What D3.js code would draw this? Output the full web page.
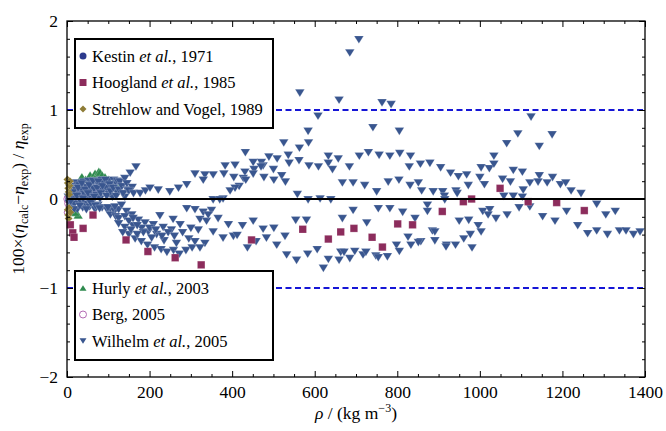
<!DOCTYPE html>
<html>
<head>
<meta charset="utf-8">
<script src="https://cdn.jsdelivr.net/npm/d3@7"></script>
<style>
  body { margin: 0; background: #fff; }
  svg { display: block; }
  svg text { font-family: "Liberation Serif", "Times New Roman", Times, "DejaVu Serif", serif; }
</style>
</head>
<body>
<svg id="chart" width="666" height="431"></svg>
<script>
//data: [density kg/m3, deviation %]
var kestin = [[5,0.0],[12,0.05],[20,0.02],[30,0.08],[40,0.05],[50,0.1],[60,0.08],[70,0.12],[80,0.1],[90,0.13],[100,0.12],[15,-0.03],[35,-0.02],[55,0.03],[75,0.05]];

var hoogland = [[8,-0.29],[14,-0.38],[17,-0.43],[39,-0.33],[63,-0.18],[143,-0.46],[196,-0.59],[262,-0.66],[325,-0.74],
	[447,-0.46],[571,-0.34],[633,-0.45],[663,-0.37],[695,-0.33],[739,-0.43],[764,-0.54],[801,-0.28],[837,-0.29],
	[909,-0.14],[960,-0.03],[980,0.0],[1049,0.12],[1117,-0.03],[1186,-0.04],[1253,-0.13]];

var strehlow = [[1,0.22],[2,0.18],[3,0.12],[4,0.08],[5,0.05],[6,0.15],[2,-0.12],[3,-0.18],[4,-0.22],[5,-0.1],[7,0.2],[8,-0.15]];

var hurly = [[27,-0.18],[20,-0.15],[36,0.25],[45,0.22],[56,0.27],[68,0.29],[70,0.25],[77,0.31],[80,0.3],[85,0.27],[92,0.25],[100,0.22],[112,0.18],[115,0.19]];

var berg = [[2,0.0],[4,-0.05],[6,0.03],[10,-0.08],[3,-0.15]];

var wilhelm = [
	//low density blob
	[3,0.02],[5,-0.05],[8,0.08],[10,-0.1],[12,0.14],[15,0.0],[18,-0.06],[20,0.1],[22,0.18],[25,-0.12],[28,0.04],[30,0.15],
	[33,-0.03],[35,0.1],[38,-0.1],[40,0.19],[42,0.05],[45,-0.06],[48,0.13],[50,0.0],[52,0.2],[55,-0.09],[57,0.08],[60,0.16],
	[62,-0.03],[65,0.11],[68,-0.12],[70,0.2],[72,0.04],[75,-0.07],[78,0.15],[80,0.0],[83,0.21],[85,-0.1],[88,0.09],[90,0.17],
	[95,0.12],[98,-0.13],[100,0.2],[102,0.05],[105,-0.11],[108,0.15],[110,0.02],[113,0.21],[115,-0.14],[118,0.1],
	[120,0.17],[123,0.06],[125,-0.12],[105,-0.18],[118,-0.2],[125,-0.22],
	[7,0.12],[9,-0.03],[14,0.07],[17,-0.12],[24,0.03],[27,0.12],[31,-0.08],[36,0.17],[39,0.0],[44,0.1],[47,-0.12],[51,0.06],
	[54,0.15],[58,-0.05],[63,0.2],[66,0.02],[69,-0.08],[73,0.12],[76,0.19],[79,-0.11],[82,0.06],[86,0.14],[93,0.21],[96,0.03],
	[99,-0.1],[103,0.16],[106,0.08],[112,0.12],[116,-0.09],[119,0.03],[122,0.2],[126,0.1],
	//branches below 320
	[128,0.19],[140,0.23],[153,0.29],[167,0.36],[133,0.14],[145,0.17],[140,0.02],[146,0.1],[158,0.13],
	[136,0.06],[150,0.09],[161,0.06],[177,0.06],[190,0.09],[201,0.12],[221,0.10],[249,0.08],[270,0.12],[290,0.16],[310,0.28],
	[132,-0.07],[144,-0.14],[157,-0.18],[173,-0.24],[189,-0.27],[209,-0.29],[233,-0.32],[253,-0.35],[274,-0.29],
	[181,-0.33],[197,-0.37],[217,-0.40],[290,-0.11],[310,-0.12],[318,-0.35],[257,-0.23],[225,-0.19],
	[150,-0.40],[165,-0.45],[180,-0.48],[195,-0.52],[212,-0.55],[228,-0.57],[242,-0.6],[258,-0.58],[272,-0.62],[288,-0.58],[303,-0.55],
	[160,-0.3],[205,-0.44],[235,-0.47],[265,-0.5],[295,-0.45],[310,-0.48],
	[140,-0.2],[150,-0.25],[160,-0.22],[170,-0.3],[185,-0.38],[200,-0.33],[215,-0.35],[230,-0.42],[245,-0.38],[260,-0.42],
	[280,-0.38],[300,-0.33],[140,-0.32],[155,-0.35],[170,-0.4],[125,-0.28],[135,-0.38],
	//above the zero line
	[707,1.79],[685,1.64],[564,1.19],[659,1.11],[763,1.08],[785,1.06],[608,0.93],[584,0.76],[741,0.80],[805,0.76],
	[1124,0.92],[1092,0.73],[1175,0.72],
	[525,0.63],[585,0.63],[563,0.57],[432,0.52],[1065,0.62],[1144,0.59],[730,0.52],[806,0.51],[708,0.48],[756,0.49],
	[782,0.48],[832,0.48],[1034,0.48],[633,0.48],[536,0.49],[489,0.47],[657,0.45],[509,0.45],[538,0.40],[562,0.43],
	[451,0.41],[471,0.41],[475,0.37],[383,0.37],[407,0.38],[586,0.37],[609,0.36],[633,0.40],[684,0.36],[829,0.36],
	[856,0.39],[879,0.40],[905,0.35],[1003,0.35],[1023,0.34],[1034,0.39],[500,0.33],[453,0.33],[470,0.36],[1081,0.32],
	[1103,0.30],[643,0.33],[431,0.30],[451,0.28],[404,0.24],[380,0.28],[427,0.23],[433,0.21],[477,0.24],[501,0.21],
	[520,0.26],[529,0.19],[929,0.29],[948,0.25],[968,0.27],[1000,0.24],[1055,0.22],[1074,0.19],[1144,0.26],[1176,0.24],
	[1121,0.18],[1141,0.19],[1163,0.18],[693,0.18],[667,0.18],[721,0.15],[778,0.19],[804,0.21],[851,0.18],[831,0.15],
	[972,0.15],[1011,0.16],[1195,0.16],[1208,0.18],[417,0.14],[407,0.12],[395,0.09],[750,0.08],[859,0.09],[887,0.08],
	[910,0.08],[914,0.03],[942,0.09],[945,0.06],[1105,0.10],[1221,0.09],[1245,0.06],[558,0.05],[378,0.0],[354,-0.01],
	[370,-0.01],[584,-0.01],[613,0.0],[639,-0.01],[1058,0.03],[1081,0.03],[1103,0.02],[915,-0.01],[354,0.27],[334,0.27],[330,0.21],
	//below the zero line
	[873,-0.07],[1121,-0.09],[1095,-0.10],[1283,-0.06],[330,-0.15],[350,-0.13],[322,-0.23],[338,-0.25],[366,-0.22],
	[342,-0.18],[693,-0.13],[754,-0.11],[782,-0.11],[813,-0.15],[873,-0.14],[1007,-0.14],[1024,-0.12],[1020,-0.18],
	[1039,-0.22],[1066,-0.18],[1152,-0.20],[1210,-0.14],[1305,-0.18],[1328,-0.14],[667,-0.22],[726,-0.27],[843,-0.22],
	[451,-0.25],[425,-0.30],[391,-0.29],[354,-0.37],[378,-0.44],[403,-0.42],[412,-0.41],[475,-0.34],[501,-0.33],
	[528,-0.42],[483,-0.44],[458,-0.48],[437,-0.55],[554,-0.24],[580,-0.24],[950,-0.25],[973,-0.24],[996,-0.30],
	[1003,-0.37],[977,-0.40],[961,-0.45],[885,-0.36],[891,-0.37],[891,-0.47],[857,-0.48],[851,-0.49],[826,-0.43],
	[833,-0.52],[798,-0.52],[805,-0.59],[919,-0.52],[918,-0.54],[941,-0.52],[981,-0.55],[1182,-0.25],[1237,-0.30],
	[1261,-0.39],[1283,-0.36],[1309,-0.40],[1338,-0.36],[1354,-0.36],[1372,-0.40],[1388,-0.37],[508,-0.52],[334,-0.50],
	[322,-0.55],[532,-0.63],[556,-0.69],[583,-0.62],[606,-0.57],[621,-0.78],[633,-0.68],[659,-0.69],[663,-0.60],
	[671,-0.60],[685,-0.67],[697,-0.59],[717,-0.63],[724,-0.60],[748,-0.64],[754,-0.66],[776,-0.65]
];

var xTicks = [0,200,400,600,800,1000,1200,1400];
var yTicks = [-2,-1,0,1,2];
var dashLevels = [-1,1];

var legendTop = ["kestin","hoogland","strehlow"];
var legendBottom = ["hurly","berg","wilhelm"];

(function(){

	var svg = d3.select("#chart");
	var serif = "'Liberation Serif', 'Times New Roman', Times, 'DejaVu Serif', serif";
	var left = 67, right = 645, top = 21, bottom = 377;

	var x = d3.scaleLinear().domain([0,1400]).range([left,right]);
	var y = d3.scaleLinear().domain([-2,2]).range([bottom,top]);

	//series styles and legend texts
	var series = {
		kestin:   {data: kestin,   shape: "circle",  color: "#2c3a8d", name: ["Kestin ", "et al.", ", 1971"]},
		hoogland: {data: hoogland, shape: "square",  color: "#8c2c5c", name: ["Hoogland ", "et al.", ", 1985"]},
		strehlow: {data: strehlow, shape: "diamond", color: "#8e7c36", name: ["Strehlow and Vogel, 1989"]},
		hurly:    {data: hurly,    shape: "up",      color: "#2e8a4e", name: ["Hurly ", "et al.", ", 2003"]},
		berg:     {data: berg,     shape: "open",    color: "#b36ab3", name: ["Berg, 2005"]},
		wilhelm:  {data: wilhelm,  shape: "down",    color: "#39568f", name: ["Wilhelm ", "et al.", ", 2005"]}
	};

	function path(shape, s){
		var h = s/2;
		if(shape==="square") return "M"+(-h)+","+(-h)+"h"+s+"v"+s+"h"+(-s)+"Z";
		if(shape==="diamond") return "M0,"+(-h)+"L"+h+",0L0,"+h+"L"+(-h)+",0Z";
		if(shape==="up") return "M0,"+(-h*0.8)+"L"+h+","+(h*0.8)+"L"+(-h)+","+(h*0.8)+"Z";
		if(shape==="down") return "M"+(-h)+","+(-h*0.8)+"L"+h+","+(-h*0.8)+"L0,"+(h*0.8)+"Z";
		return d3.symbol(d3.symbolCircle, Math.PI*h*h)();
	}

	function marks(g, key, s){
		var o = series[key];
		g.selectAll("path").data(o.data).enter().append("path")
			.attr("transform", function(d){return "translate("+x(d[0])+","+y(d[1])+")"})
			.attr("d", path(o.shape, s))
			.attr("fill", o.shape==="open" ? "none" : o.color)
			.attr("stroke", o.shape==="open" ? o.color : "#fff")
			.attr("stroke-width", o.shape==="open" ? 1 : 0.4)
			.attr("stroke-opacity", o.shape==="open" ? 1 : 0.5);
	}

	//points, green ones tucked under the blue blob
	var pts = svg.append("g");
	["kestin","berg","hurly","wilhelm","strehlow","hoogland"].forEach(function(k){
		var size = k==="hoogland" ? 7.5 : (k==="wilhelm" || k==="hurly" ? 9.5 : 8);
		marks(pts.append("g"), k, size);
	});

	//reference lines
	svg.append("g").selectAll("line").data(dashLevels).enter().append("line")
		.attr("x1", left).attr("x2", right)
		.attr("y1", function(d){return y(d)}).attr("y2", function(d){return y(d)})
		.attr("stroke", "#1616d6").attr("stroke-width", 1.8).attr("stroke-dasharray", "6,3.5");
	svg.append("line").attr("x1", left).attr("x2", right).attr("y1", y(0)).attr("y2", y(0))
		.attr("stroke", "#000").attr("stroke-width", 2.2);

	//frame ticks
	var xMinor = d3.range(0, 1401, 50).filter(function(v){return v%200!==0});
	var yMinor = d3.range(-20, 21, 2).map(function(v){return v/10}).filter(function(v){return v%1!==0});

	function frameAxis(axis, scale, major, minor, tx, ty, labels){
		var g = svg.append("g").attr("transform", "translate("+tx+","+ty+")");
		g.call(axis(scale).tickValues(minor).tickSize(-3).tickFormat(""));
		var m = svg.append("g").attr("transform", "translate("+tx+","+ty+")");
		m.call(axis(scale).tickValues(major).tickSize(-6).tickPadding(9).tickFormat(labels ? d3.format("d") : ""));
		[g,m].forEach(function(s){
			s.attr("font-family", serif);
			s.select(".domain").remove();
			s.selectAll("line").attr("stroke", "#000").attr("stroke-width", 1);
		});
		m.selectAll("text").attr("font-size", 17.5).attr("fill", "#000").style("font-family", serif);
		return m;
	}
	frameAxis(d3.axisBottom, x, xTicks, xMinor, 0, bottom, true);
	frameAxis(d3.axisTop, x, xTicks, xMinor, 0, top, false);
	frameAxis(d3.axisLeft, y, yTicks, yMinor, left, 0, true);
	frameAxis(d3.axisRight, y, yTicks, yMinor, right, 0, false);

	svg.append("rect").attr("x", left).attr("y", top).attr("width", right-left).attr("height", bottom-top)
		.attr("fill", "none").attr("stroke", "#000").attr("stroke-width", 1.3);

	//legends
	function legend(keys, y0){
		var g = svg.append("g");
		g.append("rect").attr("x", 75).attr("y", y0).attr("width", 198).attr("height", 89)
			.attr("fill", "#fff").attr("stroke", "#000").attr("stroke-width", 2);
		keys.forEach(function(k, i){
			var cy = y0 + 17 + i*26.5;
			var o = series[k];
			g.append("path").attr("transform", "translate(83,"+cy+")")
				.attr("d", path(o.shape, 7))
				.attr("fill", o.shape==="open" ? "none" : o.color)
				.attr("stroke", o.shape==="open" ? o.color : "none");
			var t = g.append("text").attr("x", 92).attr("y", cy+5.5).attr("font-size", 16.5)
				.attr("fill", "#000").style("font-family", serif);
			o.name.forEach(function(part, j){
				t.append("tspan").text(part).attr("font-style", j===1 ? "italic" : "normal");
			});
		});
	}
	legend(legendTop, 39);
	legend(legendBottom, 271);

	//axis titles
	var xt = svg.append("text").attr("x", 356).attr("y", 419).attr("text-anchor", "middle")
		.attr("font-size", 17.5).style("font-family", serif);
	xt.append("tspan").text("ρ").attr("font-style", "italic");
	xt.append("tspan").text(" / (kg m");
	xt.append("tspan").text("−3").attr("font-size", 12).attr("dy", -7);
	xt.append("tspan").text(")").attr("dy", 7);

	var yt = svg.append("text").attr("transform", "translate(24,199) rotate(-90)")
		.attr("text-anchor", "middle").attr("font-size", 17.5).style("font-family", serif);
	yt.append("tspan").text("100×(");
	yt.append("tspan").text("η").attr("font-style", "italic");
	yt.append("tspan").text("calc").attr("font-size", 12).attr("dy", 4);
	yt.append("tspan").text("−").attr("dy", -4);
	yt.append("tspan").text("η").attr("font-style", "italic");
	yt.append("tspan").text("exp").attr("font-size", 12).attr("dy", 4);
	yt.append("tspan").text(") / ").attr("dy", -4);
	yt.append("tspan").text("η").attr("font-style", "italic");
	yt.append("tspan").text("exp").attr("font-size", 12).attr("dy", 4);

})();
</script>
</body>
</html>
